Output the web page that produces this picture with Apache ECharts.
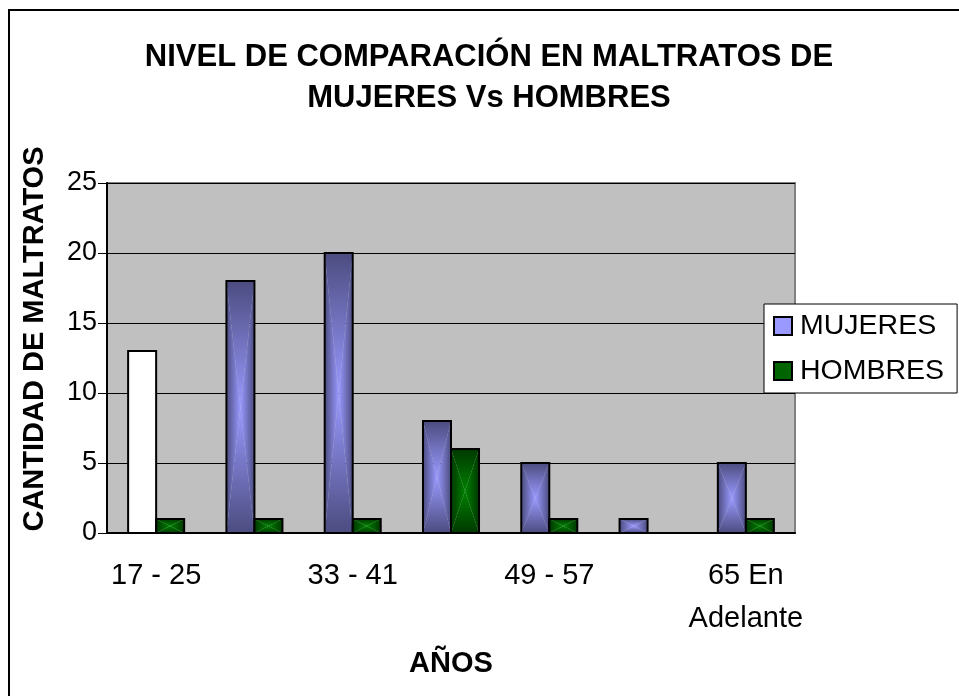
<!DOCTYPE html>
<html>
<head>
<meta charset="utf-8">
<script src="https://cdn.jsdelivr.net/npm/echarts@6/dist/echarts.min.js"></script>
<style>
    html, body { margin: 0; padding: 0; background: #fff; }
    #chart { width: 959px; height: 696px; }
</style>
</head>
<body>
<div id="chart"></div>
<script>
var categories = ['17 - 25', '25 - 33', '33 - 41', '41 - 49', '49 - 57', '57 - 65', '65 En Adelante'];
var mujeres = [13, 18, 20, 8, 5, 1, 5];
var hombres = [1, 1, 1, 6, 1, 0, 1];
var yMin = 0, yMax = 25, yStep = 5;

var font = 'Liberation Sans, Arial, sans-serif';

// barra con degradado "desde el centro" (4 triangulos) como en Excel
var makeBar = function (side, edge, mid) {
    return function (params, api) {
        var val = api.value(1);
        if (!val) return null;
        var base = api.coord([api.value(0), 0]);
        var top = api.coord([api.value(0), val]);
        var band = api.size([1, 0])[0];
        var w = band * 0.285;
        var x0 = side < 0 ? base[0] - w : base[0];
        var x1 = x0 + w, y0 = top[1], y1 = base[1];
        var cx = (x0 + x1) / 2, cy = (y0 + y1) / 2;
        var border = {
            type: 'rect',
            shape: { x: x0, y: y0, width: w, height: y1 - y0 },
            style: { fill: null, stroke: '#000', lineWidth: 2 }
        };
        if (side < 0 && params.dataIndex === 0) {
            border.style.fill = '#fff';
            return border;
        }
        var grad = function (a, b, c, d) {
            return new echarts.graphic.LinearGradient(a, b, c, d, [
                { offset: 0, color: edge },
                { offset: 1, color: mid }
            ]);
        };
        return {
            type: 'group',
            children: [
                { type: 'polygon', shape: { points: [[x0, y0], [cx, cy], [x0, y1]] }, style: { fill: grad(0, 0, 1, 0) } },
                { type: 'polygon', shape: { points: [[x1, y0], [cx, cy], [x1, y1]] }, style: { fill: grad(1, 0, 0, 0) } },
                { type: 'polygon', shape: { points: [[x0, y0], [x1, y0], [cx, cy]] }, style: { fill: grad(0, 0, 0, 1) } },
                { type: 'polygon', shape: { points: [[x0, y1], [x1, y1], [cx, cy]] }, style: { fill: grad(0, 1, 0, 0) } },
                border
            ]
        };
    };
};

var toPairs = function (arr) {
    return arr.map(function (v, i) { return [i, v]; });
};

var myChart = echarts.init(document.getElementById('chart'));
myChart.setOption({
    animation: false,
    backgroundColor: '#fff',
    textStyle: { fontFamily: font },
    title: {
        text: 'NIVEL DE COMPARACIÓN EN MALTRATOS DE\nMUJERES Vs HOMBRES',
        left: 484,
        top: 32,
        textAlign: 'center',
        textStyle: { fontFamily: font, fontSize: 31, fontWeight: 'bold', color: '#000', lineHeight: 41 }
    },
    graphic: [{
        type: 'rect',
        z: -10,
        shape: { x: 9, y: 10, width: 2000, height: 2000 },
        style: { fill: null, stroke: '#000', lineWidth: 2 }
    }],
    legend: {
        orient: 'vertical',
        left: 764,
        top: 304,
        padding: [7, 13, 7, 9],
        itemWidth: 18,
        itemHeight: 18,
        itemGap: 15,
        backgroundColor: '#fff',
        borderColor: '#000',
        borderWidth: 1,
        borderRadius: 0,
        icon: 'rect',
        itemStyle: { borderColor: '#000', borderWidth: 2 },
        textStyle: { fontFamily: font, fontSize: 28.5, color: '#000', lineHeight: 30, padding: [0, 0, 0, 3] },
        data: ['MUJERES', 'HOMBRES']
    },
    grid: {
        left: 107,
        top: 183,
        right: 164,
        bottom: 163,
        show: true,
        backgroundColor: '#c0c0c0',
        borderColor: '#808080',
        borderWidth: 2
    },
    xAxis: {
        type: 'category',
        data: categories,
        name: 'AÑOS',
        nameLocation: 'middle',
        nameGap: 116,
        nameTextStyle: { fontFamily: font, fontSize: 29, fontWeight: 'bold', color: '#000' },
        axisLine: { lineStyle: { color: '#000', width: 2 } },
        axisTick: { length: 9, lineStyle: { color: '#000' } },
        axisLabel: {
            interval: 1,
            margin: 21,
            fontSize: 29,
            color: '#000',
            lineHeight: 43,
            formatter: function (v) { return v.replace(' En ', ' En\n'); }
        }
    },
    yAxis: {
        type: 'value',
        min: yMin,
        max: yMax,
        interval: yStep,
        name: 'CANTIDAD DE MALTRATOS',
        nameLocation: 'middle',
        nameGap: 58,
        nameTextStyle: { fontFamily: font, fontSize: 29, fontWeight: 'bold', color: '#000', padding: [0, 0, 0, 38] },
        axisLine: { show: true, lineStyle: { color: '#000', width: 2 } },
        axisTick: { show: true, length: 9, lineStyle: { color: '#000' } },
        axisLabel: { margin: 10, fontSize: 27, color: '#000' },
        splitLine: { lineStyle: { color: '#000', width: 1 } }
    },
    series: [
        {
            name: 'MUJERES',
            type: 'custom',
            itemStyle: { color: '#9999ff' },
            renderItem: makeBar(-1, '#4c4c80', '#9999ff'),
            encode: { x: 0, y: 1 },
            data: toPairs(mujeres)
        },
        {
            name: 'HOMBRES',
            type: 'custom',
            itemStyle: { color: '#006400' },
            renderItem: makeBar(1, '#003800', '#008000'),
            encode: { x: 0, y: 1 },
            data: toPairs(hombres)
        }
    ]
});
window.onresize = myChart.resize;
</script>
</body>
</html>
